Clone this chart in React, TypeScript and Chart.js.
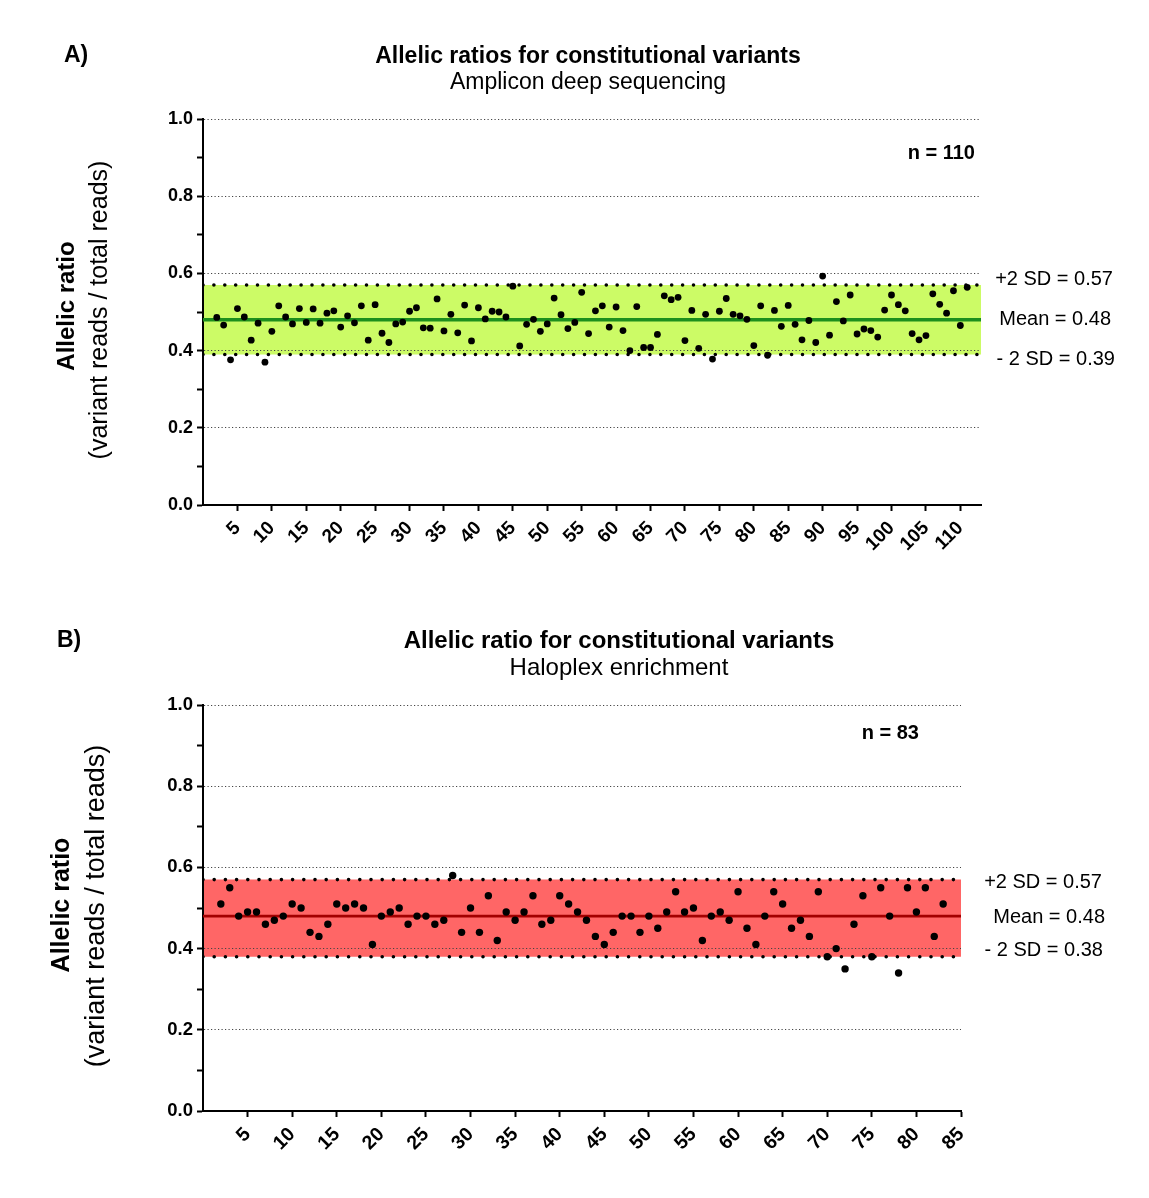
import React, { useEffect, useRef } from "react";
import { Chart, registerables } from "chart.js";

Chart.register(...registerables);

const FONT = '"Liberation Sans", Arial, Helvetica, sans-serif';

// ---------- Panel A: Amplicon deep sequencing ----------
const firstSampleA = 2;
const ratiosA = [
  0.486, 0.466, 0.376, 0.509, 0.487, 0.427, 0.471, 0.37, 0.45, 0.516,
  0.487, 0.469, 0.509, 0.473, 0.508, 0.471, 0.497, 0.503, 0.461, 0.49,
  0.472, 0.516, 0.427, 0.519, 0.445, 0.421, 0.469, 0.474, 0.502, 0.511,
  0.459, 0.458, 0.534, 0.451, 0.494, 0.446, 0.518, 0.425, 0.511, 0.482,
  0.502, 0.5, 0.487, 0.567, 0.412, 0.468, 0.481, 0.45, 0.469, 0.536,
  0.493, 0.457, 0.473, 0.551, 0.444, 0.503, 0.516, 0.461, 0.513, 0.452,
  0.4, 0.514, 0.408, 0.408, 0.442, 0.542, 0.532, 0.538, 0.426, 0.504,
  0.406, 0.494, 0.378, 0.502, 0.535, 0.494, 0.49, 0.481, 0.413, 0.516,
  0.388, 0.504, 0.463, 0.517, 0.468, 0.428, 0.478, 0.421, 0.593, 0.44,
  0.527, 0.477, 0.544, 0.443, 0.456, 0.452, 0.435, 0.505, 0.544, 0.519,
  0.503, 0.444, 0.428, 0.439, 0.547, 0.52, 0.497, 0.555, 0.465, 0.564,
];
const xTicksA = [5, 10, 15, 20, 25, 30, 35, 40, 45, 50, 55, 60, 65, 70, 75, 80, 85, 90, 95, 100, 105, 110];
const xMaxA = 113;
const meanA = 0.48;
const sdHighA = 0.57;
const sdLowA = 0.39;

// ---------- Panel B: Haloplex enrichment ----------
const firstSampleB = 2;
const ratiosB = [
  0.51, 0.55, 0.48, 0.49, 0.49, 0.46, 0.47, 0.48, 0.51, 0.5,
  0.44, 0.43, 0.46, 0.51, 0.5, 0.51, 0.5, 0.41, 0.48, 0.49,
  0.5, 0.46, 0.48, 0.48, 0.46, 0.47, 0.58, 0.44, 0.5, 0.44,
  0.53, 0.42, 0.49, 0.47, 0.49, 0.53, 0.46, 0.47, 0.53, 0.51,
  0.49, 0.47, 0.43, 0.41, 0.44, 0.48, 0.48, 0.44, 0.48, 0.45,
  0.49, 0.54, 0.49, 0.5, 0.42, 0.48, 0.49, 0.47, 0.54, 0.45,
  0.41, 0.48, 0.54, 0.51, 0.45, 0.47, 0.43, 0.54, 0.38, 0.4,
  0.35, 0.46, 0.53, 0.38, 0.55, 0.48, 0.34, 0.55, 0.49, 0.55,
  0.43, 0.51,
];
const xTicksB = [5, 10, 15, 20, 25, 30, 35, 40, 45, 50, 55, 60, 65, 70, 75, 80, 85];
const xMaxB = 85;
const meanB = 0.48;
const sdHighB = 0.57;
const sdLowB = 0.38;

// ---------- shared y axis ----------
const yMajorTicks = [0, 0.2, 0.4, 0.6, 0.8, 1.0];
const yMinorTicks = [0.1, 0.3, 0.5, 0.7, 0.9];

type PanelCfg = {
  top: number;
  width: number;
  height: number;
  ratios: number[];
  firstSample: number;
  xTicks: number[];
  xMax: number;
  mean: number;
  sdHigh: number;
  sdLow: number;
  bandColor: string;
  meanColor: string;
  meanWidth: number;
  pointRadius: number;
  dotGap: number;
  padding: { top: number; right: number; bottom: number; left: number };
  yAxisWidth: number;
  xAxisHeight: number;
  tickFont: number;
};

const panelA: PanelCfg = {
  top: 0,
  width: 1149,
  height: 590,
  ratios: ratiosA,
  firstSample: firstSampleA,
  xTicks: xTicksA,
  xMax: xMaxA,
  mean: meanA,
  sdHigh: sdHighA,
  sdLow: sdLowA,
  bandColor: "#ccfb66",
  meanColor: "#1d8f1d",
  meanWidth: 3.5,
  pointRadius: 3.4,
  dotGap: 10.9,
  padding: { top: 119, right: 168, bottom: 0, left: 0 },
  yAxisWidth: 203,
  xAxisHeight: 85,
  tickFont: 18,
};

const panelB: PanelCfg = {
  top: 590,
  width: 1149,
  height: 608,
  ratios: ratiosB,
  firstSample: firstSampleB,
  xTicks: xTicksB,
  xMax: xMaxB,
  mean: meanB,
  sdHigh: sdHighB,
  sdLow: sdLowB,
  bandColor: "#ff6666",
  meanColor: "#a30000",
  meanWidth: 2.6,
  pointRadius: 3.7,
  dotGap: 11.2,
  padding: { top: 115, right: 188, bottom: 0, left: 0 },
  yAxisWidth: 203,
  xAxisHeight: 87,
  tickFont: 18.5,
};

const isMajor = (v: number) => Math.round(v * 10) % 2 === 0;

function ChartPanel({ cfg }: { cfg: PanelCfg }) {
  const ref = useRef<HTMLCanvasElement>(null);
  useEffect(() => {
    if (!ref.current) return;
    const points = cfg.ratios.map((v, i) => ({ x: i + cfg.firstSample, y: v }));
    const hLine = (y: number) => [
      { x: 0, y },
      { x: cfg.xMax, y },
    ];
    const dotted = {
      borderColor: "#000",
      borderWidth: 3.6,
      borderDash: [0, cfg.dotGap],
      borderCapStyle: "round" as const,
      pointRadius: 0,
      showLine: true,
    };
    const chart = new Chart(ref.current, {
      type: "scatter",
      data: {
        datasets: [
          {
            label: "ratios",
            data: points,
            pointRadius: cfg.pointRadius,
            pointBackgroundColor: "#000",
            pointBorderWidth: 0,
            showLine: false,
          },
          {
            label: "mean",
            data: hLine(cfg.mean),
            showLine: true,
            borderColor: cfg.meanColor,
            borderWidth: cfg.meanWidth,
            pointRadius: 0,
          },
          {
            label: "+2 SD",
            data: hLine(cfg.sdHigh),
            ...dotted,
            fill: "+1",
            backgroundColor: cfg.bandColor,
          },
          {
            label: "-2 SD",
            data: hLine(cfg.sdLow),
            ...dotted,
            fill: false,
          },
        ] as any,
      },
      options: {
        responsive: false,
        devicePixelRatio: 1,
        animation: false,
        events: [],
        layout: { padding: cfg.padding },
        plugins: {
          legend: { display: false },
          title: { display: false },
          tooltip: { enabled: false },
          filler: { drawTime: "beforeDraw" },
        } as any,
        scales: {
          x: {
            type: "linear",
            min: 0,
            max: cfg.xMax,
            afterFit: (s: any) => {
              s.height = cfg.xAxisHeight;
            },
            afterBuildTicks: (s: any) => {
              s.ticks = cfg.xTicks.map((v) => ({ value: v }));
            },
            ticks: {
              autoSkip: false,
              minRotation: 45,
              maxRotation: 45,
              color: "#000",
              padding: 6,
              font: { family: FONT, size: cfg.tickFont + 1, weight: "bold" },
            },
            grid: {
              drawOnChartArea: false,
              drawTicks: true,
              tickLength: 6,
              tickColor: "#000",
              tickWidth: 2,
            },
            border: { color: "#000", width: 2 },
          },
          y: {
            type: "linear",
            min: 0,
            max: 1,
            afterFit: (s: any) => {
              s.width = cfg.yAxisWidth;
            },
            afterBuildTicks: (s: any) => {
              s.ticks = [...yMajorTicks, ...yMinorTicks]
                .sort((a, b) => a - b)
                .map((v) => ({ value: v }));
            },
            ticks: {
              autoSkip: false,
              color: "#000",
              padding: 4,
              font: { family: FONT, size: cfg.tickFont, weight: "bold" },
              callback: (v: any) => (isMajor(Number(v)) ? Number(v).toFixed(1) : ""),
            },
            grid: {
              drawOnChartArea: true,
              drawTicks: true,
              tickLength: 6,
              tickColor: "#000",
              tickWidth: 2,
              lineWidth: 1,
              color: (ctx: any) =>
                ctx.tick && isMajor(ctx.tick.value) && ctx.tick.value > 0
                  ? "#444"
                  : "rgba(0,0,0,0)",
            },
            border: { color: "#000", width: 2, dash: [1.2, 2.3] },
          },
        },
      } as any,
    });
    return () => chart.destroy();
  }, [cfg]);
  return (
    <canvas
      ref={ref}
      width={cfg.width}
      height={cfg.height}
      style={{ position: "absolute", left: 0, top: cfg.top, width: cfg.width, height: cfg.height }}
    />
  );
}

type TxtProps = {
  x: number;
  y: number;
  text: string;
  size: number;
  bold?: boolean;
  align?: "left" | "center" | "right";
  rotate?: boolean;
};

function Txt({ x, y, text, size, bold, align = "center", rotate }: TxtProps) {
  const tx = align === "center" ? "-50%" : align === "right" ? "-100%" : "0";
  const transform = rotate
    ? "translate(-50%, -50%) rotate(-90deg)"
    : `translate(${tx}, -50%)`;
  return (
    <div
      style={{
        position: "absolute",
        left: x,
        top: y,
        transform,
        fontFamily: FONT,
        fontSize: size,
        fontWeight: bold ? 700 : 400,
        lineHeight: 1,
        whiteSpace: "nowrap",
        color: "#000",
      }}
    >
      {text}
    </div>
  );
}

export default function App() {
  return (
    <div
      style={{
        position: "absolute",
        left: 0,
        top: 0,
        width: 1149,
        height: 1198,
        background: "#fff",
        overflow: "hidden",
      }}
    >
      <ChartPanel cfg={panelA} />
      <ChartPanel cfg={panelB} />

      {/* Panel A texts */}
      <Txt x={64} y={54} text="A)" size={23} bold align="left" />
      <Txt x={588} y={55} text="Allelic ratios for constitutional variants" size={23} bold />
      <Txt x={588} y={81} text="Amplicon deep sequencing" size={23} />
      <Txt x={66} y={306} text="Allelic ratio" size={24} bold rotate />
      <Txt x={98} y={310} text="(variant reads / total reads)" size={25} rotate />
      <Txt x={975} y={152} text="n = 110" size={20} bold align="right" />
      <Txt x={1113} y={278} text="+2 SD = 0.57" size={20} align="right" />
      <Txt x={1111} y={318} text="Mean = 0.48" size={20} align="right" />
      <Txt x={1115} y={358} text="- 2 SD = 0.39" size={20} align="right" />

      {/* Panel B texts */}
      <Txt x={57} y={639} text="B)" size={23} bold align="left" />
      <Txt x={619} y={640} text="Allelic ratio for constitutional variants" size={24} bold />
      <Txt x={619} y={667} text="Haloplex enrichment" size={24} />
      <Txt x={60} y={905} text="Allelic ratio" size={25} bold rotate />
      <Txt x={95} y={906} text="(variant reads / total reads)" size={27} rotate />
      <Txt x={919} y={732} text="n = 83" size={20} bold align="right" />
      <Txt x={1102} y={881} text="+2 SD = 0.57" size={20} align="right" />
      <Txt x={1105} y={916} text="Mean = 0.48" size={20} align="right" />
      <Txt x={1103} y={949} text="- 2 SD = 0.38" size={20} align="right" />
    </div>
  );
}
